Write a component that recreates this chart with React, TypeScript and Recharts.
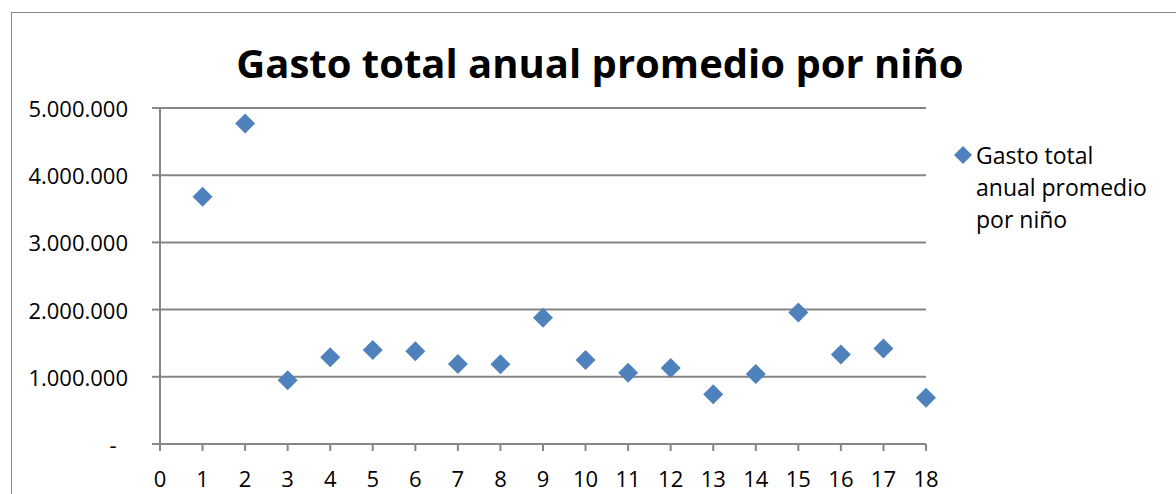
import React from 'react';
import { ScatterChart, Scatter, XAxis, YAxis, CartesianGrid, Legend } from 'recharts';

const chartTitle = 'Gasto total anual promedio por niño';
const seriesName = 'Gasto total anual promedio por niño';
const legendLines = ['Gasto total', 'anual promedio', 'por niño'];
const xValues = [1, 2, 3, 4, 5, 6, 7, 8, 9, 10, 11, 12, 13, 14, 15, 16, 17, 18];
const yValues = [
  3680000, 4770000, 950000, 1290000, 1400000, 1380000, 1190000, 1185000, 1880000,
  1250000, 1060000, 1130000, 740000, 1040000, 1955000, 1330000, 1420000, 690000,
];
const xTicks = [0, 1, 2, 3, 4, 5, 6, 7, 8, 9, 10, 11, 12, 13, 14, 15, 16, 17, 18];
const yTicks = [0, 1000000, 2000000, 3000000, 4000000, 5000000];

const data = xValues.map((x, i) => ({ x, y: yValues[i] }));

const FONT = '"Open Sans", sans-serif';
const GRAY = '#868686';
const BLUE = '#4F81BD';

const fmt = (v: number) => String(Math.round(v)).replace(/\B(?=(\d{3})+(?!\d))/g, '.');

const YTick = (props: any) => {
  const { x, y, payload } = props;
  const v = payload.value;
  if (v === 0) {
    return (
      <text x={x - 15} y={y} textAnchor="middle" dominantBaseline="central" fontFamily={FONT} fontSize={22} fill="#000">
        -
      </text>
    );
  }
  return (
    <text x={x} y={y} textAnchor="end" dominantBaseline="central" fontFamily={FONT} fontSize={22} fill="#000">
      {fmt(v)}
    </text>
  );
};

const XTick = (props: any) => {
  const { x, y, payload } = props;
  return (
    <text x={x} y={y + 34} textAnchor="middle" fontFamily={FONT} fontSize={22} fill="#000">
      {payload.value}
    </text>
  );
};

const Diamond = (props: any) => {
  const { cx, cy } = props;
  if (cx == null || cy == null) return null;
  const r = 10;
  return <path d={`M${cx},${cy - r}L${cx + r},${cy}L${cx},${cy + r}L${cx - r},${cy}Z`} fill={BLUE} />;
};

const LegendContent = () => (
  <div style={{ display: 'flex', alignItems: 'flex-start', fontFamily: FONT, fontSize: 23, color: '#000' }}>
    <svg width={20} height={32} style={{ flex: 'none' }}>
      <path d="M10,7L19,16L10,25L1,16Z" fill={BLUE} />
    </svg>
    <div style={{ marginLeft: 3, lineHeight: '32px' }}>
      {legendLines.map((l) => (
        <div key={l}>{l}</div>
      ))}
    </div>
  </div>
);

export default function App() {
  return (
    <div style={{ position: 'relative', width: 1176, height: 494, overflow: 'hidden', background: '#fff' }}>
      <style>{`body{margin:0;}`}</style>
      <div
        style={{
          position: 'absolute',
          left: 11,
          top: 12,
          width: 1220,
          height: 520,
          border: `1px solid ${GRAY}`,
          boxSizing: 'border-box',
        }}
      />
      <div
        style={{
          position: 'absolute',
          left: 0,
          top: 33,
          width: 1200,
          textAlign: 'center',
          fontFamily: FONT,
          fontWeight: 700,
          fontSize: 40,
          lineHeight: '60px',
          color: '#000',
          whiteSpace: 'nowrap',
        }}
      >
        {chartTitle}
      </div>
      <div style={{ position: 'absolute', left: 0, top: 0 }}>
        <ScatterChart width={1176} height={494} margin={{ top: 108, right: 250, bottom: 0, left: 0 }}>
          <CartesianGrid horizontal vertical={false} stroke={GRAY} strokeWidth={2} />
          <XAxis
            type="number"
            dataKey="x"
            domain={[0, 18]}
            ticks={xTicks}
            interval={0}
            height={50}
            axisLine={{ stroke: GRAY, strokeWidth: 2 }}
            tickLine={{ stroke: GRAY, strokeWidth: 2 }}
            tickSize={7}
            tick={<XTick />}
            allowDecimals={false}
          />
          <YAxis
            type="number"
            dataKey="y"
            domain={[0, 5000000]}
            ticks={yTicks}
            interval={0}
            width={160}
            axisLine={{ stroke: GRAY, strokeWidth: 2 }}
            tickLine={{ stroke: GRAY, strokeWidth: 2 }}
            tickSize={8}
            tickMargin={24}
            tick={<YTick />}
          />
          <Legend
            layout="horizontal"
            align="center"
            verticalAlign="middle"
            content={<LegendContent />}
            wrapperStyle={{ left: 953, top: 139, width: 222, height: 110 }}
          />
          <Scatter name={seriesName} data={data} fill={BLUE} shape={<Diamond />} isAnimationActive={false} />
        </ScatterChart>
      </div>
    </div>
  );
}
